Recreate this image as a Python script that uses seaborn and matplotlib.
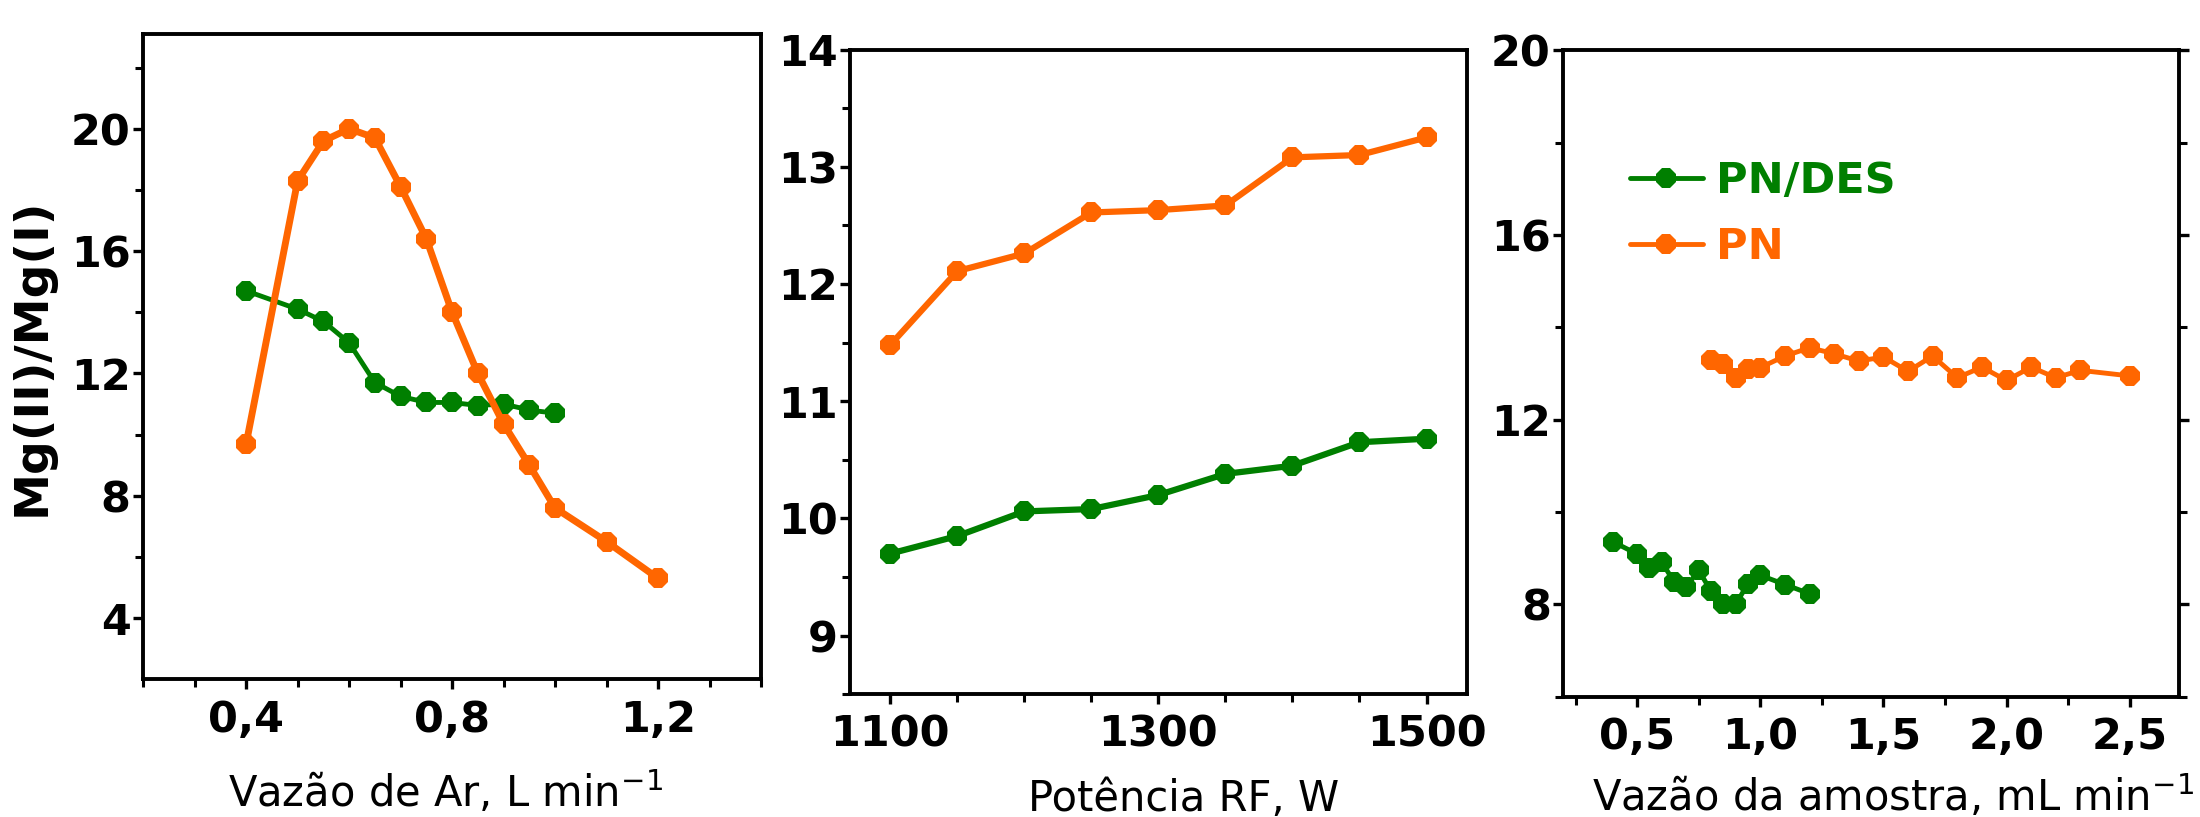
import matplotlib
matplotlib.use("Agg")
import matplotlib.pyplot as plt
import matplotlib.ticker as ticker
import seaborn as sns

# Vazão de Ar
ar_x_pn = [0.4, 0.5, 0.55, 0.6, 0.65, 0.7, 0.75, 0.8, 0.85, 0.9, 0.95, 1.0, 1.1, 1.2]
ar_pn = [9.7, 18.3, 19.6, 20.0, 19.7, 18.1, 16.4, 14.0, 12.0, 10.35, 9.0, 7.6, 6.5, 5.3]
ar_x_des = [0.4, 0.5, 0.55, 0.6, 0.65, 0.7, 0.75, 0.8, 0.85, 0.9, 0.95, 1.0]
ar_des = [14.7, 14.1, 13.7, 13.0, 11.7, 11.25, 11.05, 11.05, 10.95, 11.0, 10.8, 10.7]

# Potência RF
rf_x = [1100, 1150, 1200, 1250, 1300, 1350, 1400, 1450, 1500]
rf_pn = [11.48, 12.11, 12.26, 12.61, 12.63, 12.67, 13.08, 13.10, 13.25]
rf_des = [9.70, 9.85, 10.06, 10.08, 10.20, 10.38, 10.45, 10.65, 10.68]

# Vazão da amostra
am_x_pn = [0.8, 0.85, 0.9, 0.95, 1.0, 1.1, 1.2, 1.3, 1.4, 1.5, 1.6, 1.7, 1.8, 1.9, 2.0, 2.1, 2.2, 2.3, 2.5]
am_pn = [13.3, 13.2, 12.9, 13.1, 13.13, 13.38, 13.56, 13.43, 13.27, 13.36, 13.05, 13.38, 12.91, 13.14,
         12.85, 13.14, 12.91, 13.07, 12.95]
am_x_des = [0.4, 0.5, 0.55, 0.6, 0.65, 0.7, 0.75, 0.8, 0.85, 0.9, 0.95, 1.0, 1.1, 1.2]
am_des = [9.36, 9.09, 8.79, 8.91, 8.49, 8.38, 8.74, 8.28, 8.0, 8.0, 8.45, 8.63, 8.43, 8.23]

ORANGE = "#ff6600"
GREEN = "#007f00"

sns.set_theme(style="ticks")
plt.rcParams["font.family"] = ["DejaVu Sans"]
plt.rcParams["mathtext.default"] = "regular"
plt.rcParams["text.color"] = "black"
plt.rcParams["axes.labelcolor"] = "black"
plt.rcParams["xtick.color"] = "black"
plt.rcParams["ytick.color"] = "black"

fig = plt.figure(figsize=(22, 8.17), dpi=100)
ax1 = fig.add_axes([0.0651, 0.1686, 0.2808, 0.7899])
ax2 = fig.add_axes([0.3864, 0.1502, 0.2803, 0.7892])
ax3 = fig.add_axes([0.7106, 0.1473, 0.2798, 0.7909])


def serie(ax, x, y, cor, lw, label=None):
    sns.lineplot(x=x, y=y, ax=ax, color=cor, linewidth=lw, marker="8", markersize=16,
                 markeredgewidth=0, errorbar=None, sort=False, label=label, legend=False)


serie(ax1, ar_x_des, ar_des, GREEN, 3.5)
serie(ax1, ar_x_pn, ar_pn, ORANGE, 5.0)
serie(ax2, rf_x, rf_des, GREEN, 4.5)
serie(ax2, rf_x, rf_pn, ORANGE, 4.5)
serie(ax3, am_x_des, am_des, GREEN, 3.5, label="PN/DES")
serie(ax3, am_x_pn, am_pn, ORANGE, 3.5, label="PN")

virgula = ticker.FuncFormatter(lambda v, p: f"{v:.1f}".replace(".", ","))

ax1.set_xlim(0.2, 1.4)
ax1.set_ylim(2.0, 23.1)
ax1.xaxis.set_major_locator(ticker.MultipleLocator(0.4))
ax1.xaxis.set_minor_locator(ticker.MultipleLocator(0.1))
ax1.xaxis.set_major_formatter(virgula)
ax1.yaxis.set_major_locator(ticker.FixedLocator([4, 8, 12, 16, 20]))
ax1.yaxis.set_minor_locator(ticker.FixedLocator([6, 10, 14, 18, 22]))

ax2.set_xlim(1070, 1530)
ax2.set_ylim(8.5, 14)
ax2.xaxis.set_major_locator(ticker.FixedLocator([1100, 1300, 1500]))
ax2.xaxis.set_minor_locator(ticker.MultipleLocator(50))
ax2.yaxis.set_major_locator(ticker.MultipleLocator(1))
ax2.yaxis.set_minor_locator(ticker.MultipleLocator(0.5))

ax3.set_xlim(0.2, 2.7)
ax3.set_ylim(6, 20)
ax3.xaxis.set_major_locator(ticker.MultipleLocator(0.5))
ax3.xaxis.set_minor_locator(ticker.MultipleLocator(0.25))
ax3.xaxis.set_major_formatter(virgula)
ax3.yaxis.set_major_locator(ticker.MultipleLocator(4))
ax3.yaxis.set_minor_locator(ticker.MultipleLocator(2))

for ax in (ax1, ax2, ax3):
    for s in ax.spines.values():
        s.set_visible(True)
        s.set_linewidth(2.8)
        s.set_color("black")
    ax.tick_params(which="major", direction="out", length=7, width=2.4, labelsize=31, pad=2)
    ax.tick_params(axis="x", which="major", pad=7)
    ax.tick_params(which="minor", direction="out", length=6, width=2.2)
    for lab in ax.get_xticklabels() + ax.get_yticklabels():
        lab.set_fontweight("bold")

ax3.tick_params(axis="y", which="both", right=True)

ax1.set_xlabel("Vazão de Ar, L min$^{-1}$", fontsize=30)
ax1.xaxis.set_label_coords(0.49, -0.14)
ax2.set_xlabel("Potência RF, W", fontsize=30)
ax2.xaxis.set_label_coords(0.54, -0.13)
ax3.set_xlabel("Vazão da amostra, mL min$^{-1}$", fontsize=30)
ax3.xaxis.set_label_coords(0.535, -0.118)
ax1.set_ylabel("Mg(II)/Mg(I)", fontsize=34, fontweight="bold", labelpad=12)
ax2.set_ylabel("")
ax3.set_ylabel("")

leg = ax3.legend(loc="upper left", bbox_to_anchor=(0.045, 0.89), frameon=False, handlelength=1.7,
                 handletextpad=0.3, labelspacing=0.55, prop={"size": 31, "weight": "bold"},
                 labelcolor="linecolor")

fig.savefig("out.png", dpi=100)
